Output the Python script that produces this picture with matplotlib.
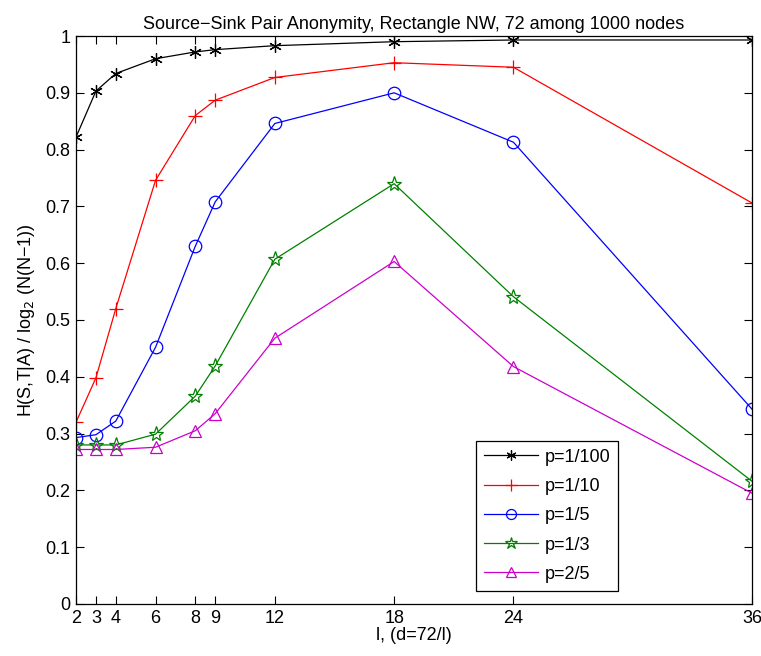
import matplotlib
matplotlib.use("Agg")
import matplotlib.pyplot as plt

plt.rcParams['font.family'] = ['Liberation Sans', 'DejaVu Sans']

l_vals = [2, 3, 4, 6, 8, 9, 12, 18, 24, 36]
p_100 = [0.822, 0.903, 0.934, 0.960, 0.972, 0.976, 0.983, 0.990, 0.993, 0.993]
p_10 = [0.320, 0.398, 0.520, 0.746, 0.860, 0.887, 0.927, 0.953, 0.945, 0.706]
p_5 = [0.293, 0.298, 0.322, 0.452, 0.630, 0.708, 0.846, 0.900, 0.813, 0.343]
p_3 = [0.280, 0.280, 0.280, 0.299, 0.366, 0.419, 0.607, 0.740, 0.541, 0.216]
p_25 = [0.272, 0.272, 0.272, 0.276, 0.305, 0.335, 0.468, 0.603, 0.418, 0.195]

fs = 13
fig = plt.figure(figsize=(7.61, 6.56), dpi=100)
ax = fig.add_axes([0.0999, 0.0793, 0.8883, 0.8658])

lw = 0.9
ax.plot(l_vals, p_100, color='black', lw=lw, marker=(6, 2, 0), ms=9, mew=0.9, label='p=1/100')
ax.plot(l_vals, p_10, color='red', lw=lw, marker='+', ms=10, mew=0.9, label='p=1/10')
ax.plot(l_vals, p_5, color='blue', lw=lw, marker='o', ms=9, mfc='none', mew=0.9, label='p=1/5')
ax.plot(l_vals, p_3, color='green', lw=lw, marker='*', ms=11, mfc='none', mew=0.9, label='p=1/3')
ax.plot(l_vals, p_25, color='#cc00cc', lw=lw, marker='^', ms=9, mfc='none', mew=0.9, label='p=2/5')

ax.set_xlim(2, 36)
ax.set_ylim(0, 1)
ax.set_xticks(l_vals)
ax.set_yticks([i / 10 for i in range(11)])
ax.set_yticklabels(['0'] + ['0.%d' % i for i in range(1, 10)] + ['1'])
ax.tick_params(direction='in', top=True, right=True, labelsize=fs, length=6, pad=4)
for s in ax.spines.values():
    s.set_linewidth(0.9)

ax.set_title('Source\u2212Sink Pair Anonymity, Rectangle NW, 72 among 1000 nodes', fontsize=fs, pad=5)
ax.set_xlabel('l, (d=72/l)', fontsize=fs, labelpad=0)
ax.set_ylabel('H(S,T|A) / log$_2$ (N(N\u22121))', fontsize=fs, labelpad=6)

leg = ax.legend(loc='lower right', bbox_to_anchor=(0.802, 0.023), fontsize=fs,
                fancybox=False, edgecolor='black', framealpha=1, borderpad=0.45,
                handlelength=3.0, handletextpad=0.35, labelspacing=0.68,
                borderaxespad=0, markerscale=0.8)
leg.get_frame().set_linewidth(0.9)

plt.savefig('out.png')
plt.close()
